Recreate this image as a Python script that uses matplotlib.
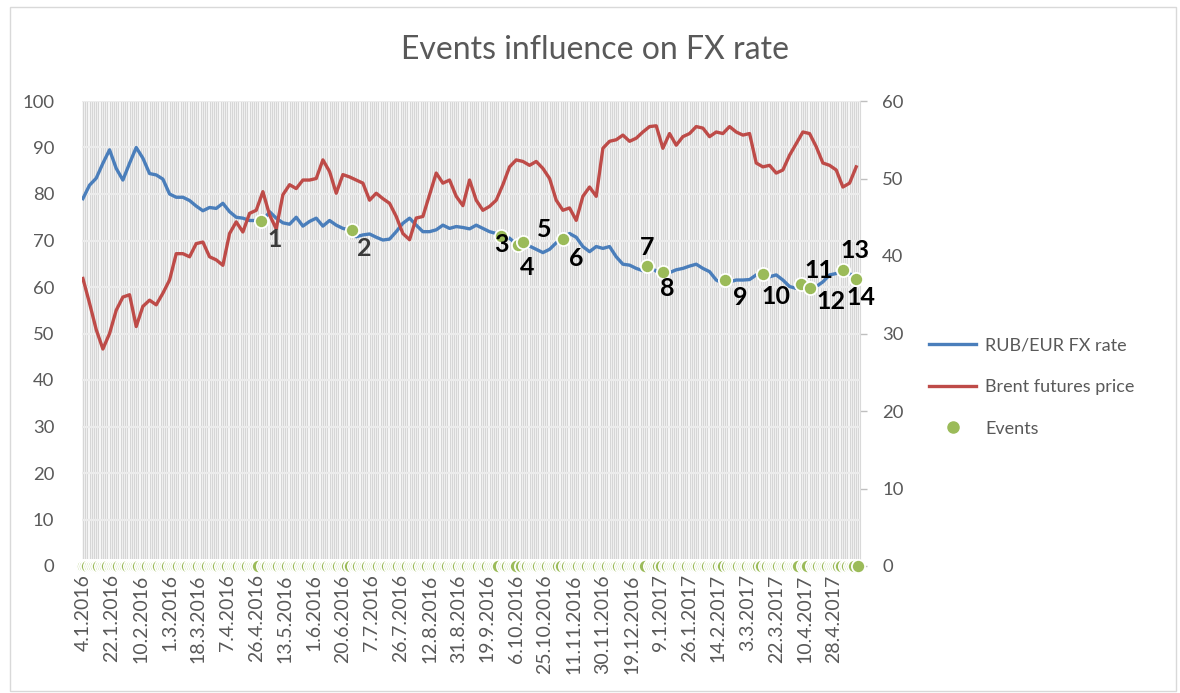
import numpy as np
import matplotlib
matplotlib.use("Agg")
import matplotlib.pyplot as plt
from matplotlib.lines import Line2D
from matplotlib.patches import Rectangle

plt.rcParams['font.family'] = ['Lato', 'DejaVu Sans']

# trading days on the category axis, one value read every 3rd day
n_days = 350
step = 3

tick_labels = ['4.1.2016', '22.1.2016', '10.2.2016', '1.3.2016', '18.3.2016',
               '7.4.2016', '26.4.2016', '13.5.2016', '1.6.2016', '20.6.2016',
               '7.7.2016', '26.7.2016', '12.8.2016', '31.8.2016', '19.9.2016',
               '6.10.2016', '25.10.2016', '11.11.2016', '30.11.2016', '19.12.2016',
               '9.1.2017', '26.1.2017', '14.2.2017', '3.3.2017', '22.3.2017',
               '10.4.2017', '28.4.2017']
tick_every = 13

rub_eur = [79.0, 81.9, 83.4, 86.6, 89.5, 85.5, 83.0, 86.6, 90.0, 87.7,
           84.4, 84.1, 83.2, 80.0, 79.3, 79.3, 78.6, 77.4, 76.4, 77.1,
           76.9, 78.0, 76.2, 75.0, 74.8, 74.3, 74.3, 74.1, 76.2, 74.8,
           73.8, 73.5, 75.0, 73.1, 74.1, 74.8, 73.1, 74.3, 73.3, 72.6,
           72.3, 70.8, 71.2, 71.4, 70.7, 70.1, 70.3, 71.9, 73.7, 74.8,
           73.3, 71.9, 71.9, 72.3, 73.3, 72.6, 73.0, 72.8, 72.5, 73.3,
           72.6, 71.9, 71.5, 70.8, 70.5, 69.2, 69.7, 68.8, 68.1, 67.4,
           68.1, 69.5, 70.5, 71.5, 70.7, 68.7, 67.6, 68.7, 68.3, 68.7,
           66.5, 64.9, 64.7, 64.0, 63.5, 64.4, 63.4, 63.3, 63.1, 63.7,
           64.0, 64.5, 64.9, 64.0, 63.3, 61.5, 60.8, 61.1, 61.5, 61.5,
           61.6, 62.6, 62.9, 62.2, 62.6, 61.5, 60.1, 59.7, 60.4, 59.7,
           60.1, 61.1, 62.6, 62.9, 63.7, 62.9, 61.9]

brent = [37.1, 33.9, 30.5, 28.0, 30.0, 33.0, 34.7, 35.0, 30.9, 33.5,
         34.3, 33.7, 35.2, 36.9, 40.3, 40.3, 39.9, 41.6, 41.8, 39.9,
         39.5, 38.8, 42.9, 44.4, 43.1, 45.5, 45.9, 48.3, 45.3, 43.5,
         47.9, 49.2, 48.7, 49.8, 49.8, 50.0, 52.4, 50.9, 48.1, 50.5,
         50.2, 49.8, 49.4, 47.2, 48.1, 47.4, 46.8, 45.1, 42.9, 42.1,
         44.9, 45.1, 47.9, 50.7, 49.4, 49.8, 47.7, 46.5, 49.8, 47.2,
         45.9, 46.4, 47.2, 49.2, 51.5, 52.4, 52.2, 51.7, 52.2, 51.3,
         50.0, 47.2, 45.9, 46.2, 44.6, 47.7, 48.9, 47.7, 53.9, 54.8,
         55.0, 55.6, 54.8, 55.2, 56.0, 56.7, 56.8, 53.9, 55.8, 54.3,
         55.4, 55.8, 56.7, 56.5, 55.4, 56.0, 55.8, 56.7, 56.0, 55.6,
         55.8, 52.0, 51.5, 51.7, 50.7, 51.1, 53.0, 54.5, 56.0, 55.8,
         54.1, 52.0, 51.7, 51.1, 48.9, 49.4, 51.5]

# events: trading-day index and RUB/EUR value on that day
event_day = [80, 121, 188, 196, 198, 216, 254, 261, 289, 306, 323, 327, 342, 348]
event_val = [74.2, 72.3, 71.0, 69.0, 69.7, 70.3, 64.5, 63.2, 61.5, 62.8, 60.6, 59.8, 63.7, 61.7]

# event numbers and the event day they belong to
label_text = ['1', '2', '3', '4', '5', '6', '7', '8', '9', '10', '11', '12', '13', '14']
label_day = [80, 121, 188, 198, 216, 216, 254, 261, 289, 306, 323, 327, 342, 348]
label_off = [(14, -19), (12, -19), (1, -9), (4, -26), (-19, 10), (13, -19), (0, 19),
             (4, -16), (15, -17), (13, -23), (18, 14), (21, -14), (12, 19), (5, -18)]

blue = '#4A7EBB'
red = '#BE4B48'
green = '#9BBB59'
grey_txt = '#595959'

W, H = 1180, 693
fig = plt.figure(figsize=(W / 100, H / 100), dpi=100)
fig.patch.set_facecolor('white')
fig.patches.append(Rectangle((10 / W, 2 / H), 1166 / W, 684 / H, transform=fig.transFigure,
                             fill=False, ec='#d9d9d9', lw=1.0))

pos = [82 / W, 1 - 566 / H, (860 - 82) / W, (566 - 101) / H]
ax = fig.add_axes(pos)
ax2 = ax.twinx()
ax3 = ax.twinx()

days = np.arange(n_days)
xs = np.arange(0, n_days, step)

# category gridlines (one per day) and value gridlines
ax.vlines(days, 0, 100, color='#d6d6d6', lw=1.0, zorder=0)
for v in range(10, 101, 10):
    ax.axhline(v, color='#ececec', lw=1.6, zorder=1)

ax.plot(xs, rub_eur, color=blue, lw=2.4, solid_joinstyle='round', zorder=3)
ax2.plot(xs, brent, color=red, lw=2.4, solid_joinstyle='round', zorder=3)

events = np.zeros(n_days)
events[event_day] = event_val
ax3.plot(days, events, 'o', ms=9.5, mfc=green, mec='white', mew=1.3, clip_on=False)

for t, d, off in zip(label_text, label_day, label_off):
    v = events[d]
    col = '#3a3a3a' if t in ('1', '2') else '#000000'
    ax3.annotate(t, (d, v), xytext=off, textcoords='offset pixels', ha='center', va='center',
                 fontsize=18, fontweight='bold', color=col)

xlim = (-0.4, 349.7)
for a in (ax, ax2, ax3):
    a.set_xlim(*xlim)
    for s in a.spines.values():
        s.set_visible(False)
ax.set_ylim(0, 100)
ax3.set_ylim(0, 100)
ax2.set_ylim(0, 60)

ax.set_yticks(range(0, 101, 10))
ax.tick_params(axis='y', length=0, pad=20, labelsize=13.3, labelcolor=grey_txt)
ax.set_xticks(np.arange(0, n_days, tick_every)[:len(tick_labels)])
ax.set_xticklabels(tick_labels, rotation=90)
ax.tick_params(axis='x', length=0, pad=6, labelsize=14, labelcolor=grey_txt)

ax2.set_yticks(range(0, 61, 10))
ax2.spines['right'].set_visible(True)
ax2.spines['right'].set_color('#d9d9d9')
ax2.tick_params(axis='y', length=5, width=1, color='#bfbfbf', pad=11,
                labelsize=13.3, labelcolor=grey_txt)
ax3.set_yticks([])
ax2.tick_params(axis='x', bottom=False, labelbottom=False)
ax3.tick_params(axis='x', bottom=False, labelbottom=False)

fig.text(0.504, 1 - 50 / H, 'Events influence on FX rate', ha='center', va='center',
         fontsize=23, color=grey_txt)

handles = [Line2D([], [], color=blue, lw=2.4),
           Line2D([], [], color=red, lw=2.4),
           Line2D([], [], ls='none', marker='o', ms=8, mfc=green, mec=green)]
fig.legend(handles, ['RUB/EUR FX rate', 'Brent futures price', 'Events'],
           loc='upper left', bbox_to_anchor=(922 / W, 1 - 330 / H), frameon=False,
           fontsize=13, labelcolor=grey_txt, handlelength=2.6, handletextpad=0.5,
           labelspacing=1.42, borderaxespad=0)

fig.savefig('out.png', dpi=100)
